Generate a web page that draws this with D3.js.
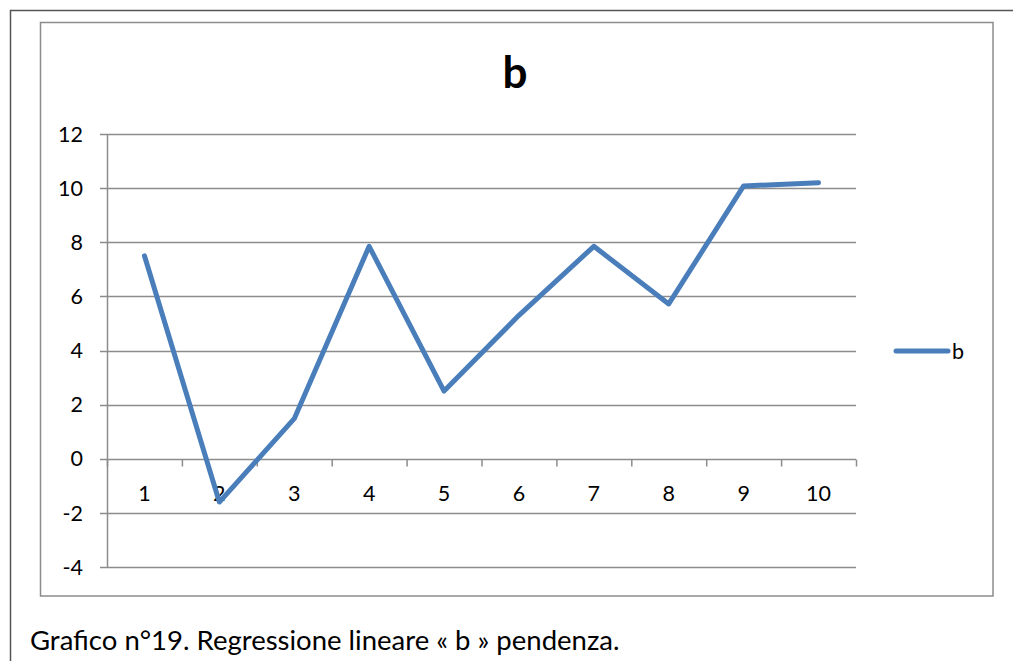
<!DOCTYPE html>
<html><head><meta charset="utf-8">
<script src="https://cdn.jsdelivr.net/npm/d3@7"></script>
<style>body{margin:0;background:#fff;} svg{display:block;}</style>
</head><body>
<svg id="c" width="1013" height="661"></svg>
<script>
const categories = ["1","2","3","4","5","6","7","8","9","10"];
const values = [7.5, -1.6, 1.48, 7.85, 2.5, 5.3, 7.85, 5.72, 10.08, 10.2];
const yTicks = [-4, -2, 0, 2, 4, 6, 8, 10, 12];
const seriesName = "b";
const title = "b";
const caption = "Grafico n°19. Regressione lineare « b » pendenza.";

const svg = d3.select("#c");
const font = "Lato, 'Open Sans', sans-serif";
// outer frame
svg.append("path").attr("d","M10.5,661 V10.5 H1013").attr("fill","none").attr("stroke","#555").attr("stroke-width",1.5);
// chart frame
svg.append("rect").attr("x",40.5).attr("y",22.5).attr("width",952.5).attr("height",573.5)
  .attr("fill","#fff").attr("stroke","#8c8c8c").attr("stroke-width",1.5);

const L=107, R=856, T=134, B=567;
const x = d3.scaleBand().domain(categories).range([L,R]);
const y = d3.scaleLinear().domain([-4,12]).range([B,T]);

// gridlines
svg.append("g").selectAll("line").data(yTicks).join("line")
  .attr("x1",L-7).attr("x2",R).attr("y1",d=>Math.round(y(d))+0.5).attr("y2",d=>Math.round(y(d))+0.5)
  .attr("stroke","#8c8c8c").attr("stroke-width",1.5);
// y axis line
svg.append("line").attr("x1",L+0.5).attr("x2",L+0.5).attr("y1",T).attr("y2",B).attr("stroke","#8c8c8c").attr("stroke-width",1.5);
// y labels
svg.append("g").selectAll("text").data(yTicks).join("text")
  .attr("x",83).attr("y",d=>y(d)).attr("dy","0.36em").attr("text-anchor","end")
  .attr("font-family",font).attr("font-size",21.5).attr("fill","#000").text(d=>d);
// x ticks on zero line
const y0 = Math.round(y(0))+0.5;
const tickPos = categories.map(c=>x(c)).concat([R]);
svg.append("g").selectAll("line").data(tickPos).join("line")
  .attr("x1",d=>d+0.5).attr("x2",d=>d+0.5).attr("y1",y0).attr("y2",y0+7)
  .attr("stroke","#8c8c8c").attr("stroke-width",1.5);
// x labels
svg.append("g").selectAll("text").data(categories).join("text")
  .attr("x",d=>x(d)+x.bandwidth()/2).attr("y",y(0)+35).attr("dy","0.36em").attr("text-anchor","middle")
  .attr("font-family",font).attr("font-size",21.5).attr("fill","#000").text(d=>d);

// line
const line = d3.line().x((d,i)=>x(categories[i])+x.bandwidth()/2).y(d=>y(d));
svg.append("path").datum(values).attr("d",line).attr("fill","none")
  .attr("stroke","#4a7ebb").attr("stroke-width",5).attr("stroke-linecap","round").attr("stroke-linejoin","round");

// title
svg.append("text").attr("x",515).attr("y",88).attr("text-anchor","middle")
  .attr("font-family",font).attr("font-weight","bold").attr("font-size",44).text(title);

// legend
svg.append("line").attr("x1",896).attr("x2",948).attr("y1",351).attr("y2",351)
  .attr("stroke","#4a7ebb").attr("stroke-width",5).attr("stroke-linecap","round");
svg.append("text").attr("x",952).attr("y",351).attr("dy","0.36em")
  .attr("font-family",font).attr("font-size",21.5).text(seriesName);

// caption
svg.append("text").attr("x",30).attr("y",650)
  .attr("font-family",font).attr("font-size",27.5).text(caption);
</script>
</body></html>
